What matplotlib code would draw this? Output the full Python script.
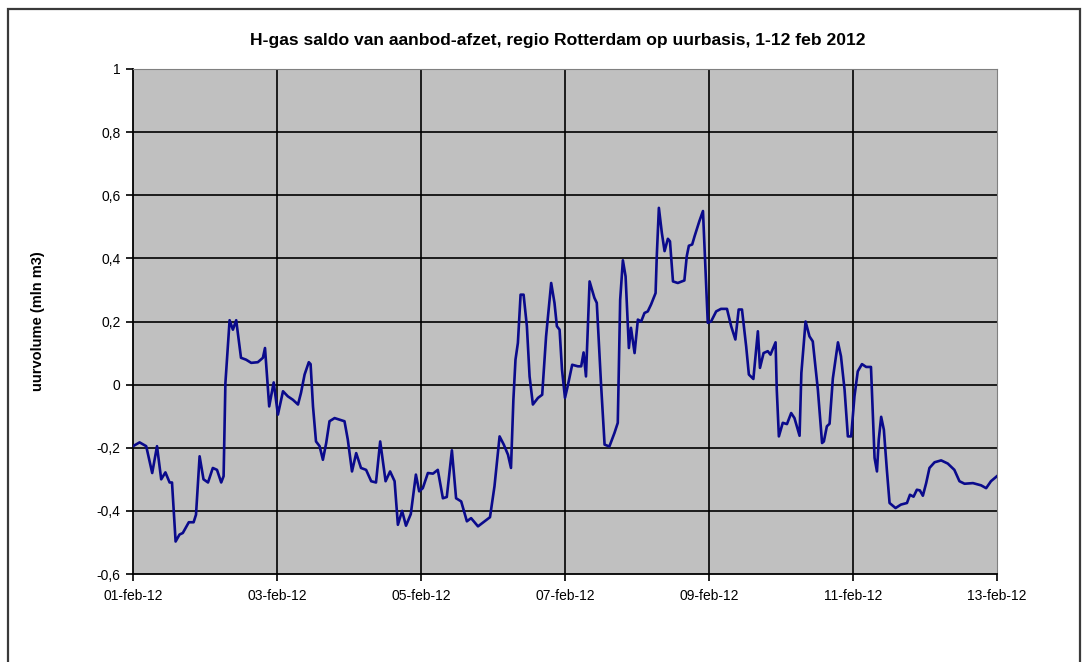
import matplotlib
matplotlib.use("Agg")
import matplotlib.pyplot as plt
from matplotlib.patches import Rectangle

plt.rcParams['font.family'] = ['Liberation Sans', 'DejaVu Sans']

# hourly balance (hours since 01-feb-12 00:00)
hours = [0, 2.2, 4.4, 6.4, 8, 9.4, 10.8, 12.2, 13, 14.2, 15.5, 16.6, 18.6, 20.2, 21,
         22.2, 23.5, 25, 26.6, 28, 29.4, 30.2, 30.8, 32.2, 33.3, 34.4, 36, 37.7, 39.4,
         41.6, 43.3, 44, 45.4, 46.9, 48.3, 50, 51.6, 53.3, 55, 56, 57.2, 58.6, 59.2, 60,
         61, 62.2, 63.3, 64.4, 65.5, 67.2, 70.5, 71.6, 73, 74.4, 76, 77.7, 79.4, 81,
         82.4, 84.2, 85.7, 87.2, 88.3, 89.7, 91, 92.6, 94.3, 95.4, 96.6, 98.3, 100,
         101.6, 103.3, 104.6, 106.3, 107.7, 109.4, 111.3, 112.7, 115, 117.2, 119, 120.5,
         122.2, 123.6, 125, 126, 126.8, 127.5, 128.3, 129.2, 130.2, 131.3, 132.2, 133.3,
         135, 136.4, 137.7, 139.4, 140.5, 141.3, 142.2, 143, 144, 144.9, 146.4, 148.3,
         149.4, 150.2, 151, 152.2, 153.8, 154.6, 156, 157.2, 158.8, 160.5, 161.6, 162.4,
         163.3, 164.2, 165.3, 166, 167.2, 168.3, 169.4, 170.5, 171.6, 172.7, 174.2,
         174.6, 175.3, 176.3, 177.2, 178.3, 179, 180, 181.6, 183.8, 184.6, 185.3, 186.4,
         187.2, 188.8, 190, 191.6, 192.7, 194.4, 196, 198, 199.4, 200.8, 201.9, 203,
         204.4, 205.3, 206.8, 207.5, 208.3, 209, 210.2, 211.6, 212.5, 214.2, 214.6,
         215.3, 216.6, 218, 219.4, 220.5, 222.2, 222.8, 224.2, 225.5, 226.6, 228.3,
         229.7, 230.3, 231.3, 232.2, 233.3, 235, 236, 237.2, 238.3, 239.4, 240.5, 241.6,
         243, 244.4, 246, 246.6, 247.2, 248, 248.6, 249.4, 250.3, 251.3, 252.2, 254.2,
         256, 258, 259, 260.2, 261.3, 262.3, 263.3, 264.4, 265.5, 267.2, 269.4, 271.6,
         273.8, 275.5, 277.2, 280, 282.7, 284.4, 286, 288]
saldo = [-0.195, -0.183, -0.195, -0.28, -0.195, -0.30, -0.278, -0.31, -0.31, -0.497,
         -0.475, -0.47, -0.436, -0.436, -0.412, -0.227, -0.30, -0.31, -0.264, -0.27,
         -0.31, -0.29, 0.005, 0.204, 0.174, 0.204, 0.085, 0.079, 0.069, 0.071, 0.085,
         0.116, -0.069, 0.007, -0.095, -0.021, -0.037, -0.048, -0.063, -0.026, 0.032,
         0.071, 0.065, -0.069, -0.18, -0.195, -0.238, -0.185, -0.116, -0.106, -0.116,
         -0.174, -0.275, -0.217, -0.264, -0.27, -0.306, -0.31, -0.18, -0.306, -0.275,
         -0.306, -0.444, -0.40, -0.447, -0.41, -0.285, -0.338, -0.328, -0.28, -0.282,
         -0.27, -0.36, -0.356, -0.208, -0.36, -0.37, -0.433, -0.423, -0.449, -0.433,
         -0.42, -0.322, -0.164, -0.19, -0.222, -0.264, -0.048, 0.079, 0.132, 0.285,
         0.285, 0.185, 0.026, -0.063, -0.042, -0.032, 0.153, 0.322, 0.259, 0.185, 0.174,
         0.048, -0.042, -0.005, 0.063, 0.058, 0.058, 0.102, 0.026, 0.327, 0.275, 0.259,
         0.005, -0.19, -0.196, -0.153, -0.121, 0.269, 0.394, 0.343, 0.116, 0.18, 0.1,
         0.206, 0.2, 0.227, 0.232, 0.254, 0.29, 0.407, 0.56, 0.48, 0.423, 0.462, 0.454,
         0.327, 0.322, 0.33, 0.407, 0.44, 0.444, 0.47, 0.518, 0.55, 0.196, 0.2, 0.232,
         0.24, 0.24, 0.185, 0.143, 0.238, 0.238, 0.121, 0.032, 0.018, 0.09, 0.169,
         0.053, 0.1, 0.106, 0.095, 0.134, -0.016, -0.164, -0.121, -0.125, -0.09, -0.106,
         -0.162, 0.037, 0.2, 0.153, 0.137, -0.016, -0.185, -0.18, -0.132, -0.124, 0.02,
         0.134, 0.09, -0.016, -0.164, -0.164, -0.037, 0.042, 0.065, 0.056, 0.056, -0.09,
         -0.232, -0.275, -0.174, -0.102, -0.143, -0.27, -0.375, -0.391, -0.38, -0.375,
         -0.349, -0.355, -0.333, -0.335, -0.352, -0.312, -0.264, -0.246, -0.24, -0.25,
         -0.27, -0.306, -0.314, -0.312, -0.319, -0.328, -0.306, -0.29]

x_ticks = [0, 48, 96, 144, 192, 240, 288]
x_labels = ['01-feb-12', '03-feb-12', '05-feb-12', '07-feb-12', '09-feb-12', '11-feb-12', '13-feb-12']
y_ticks = [-0.6, -0.4, -0.2, 0, 0.2, 0.4, 0.6, 0.8, 1]
y_labels = ['-0,6', '-0,4', '-0,2', '0', '0,2', '0,4', '0,6', '0,8', '1']

fig = plt.figure(figsize=(10.84, 6.62), dpi=100)
ax = fig.add_axes([0.1227, 0.1329, 0.9197 - 0.1227, 0.8958 - 0.1329])

# outer frame of the chart object
fig.patches.append(Rectangle((8 / 1084, -0.05), (1080 - 8) / 1084, 1.05 - 9 / 662,
                             transform=fig.transFigure, fill=False,
                             edgecolor='#3a3a3a', linewidth=1.6))

ax.set_facecolor('#c0c0c0')
ax.plot(hours, saldo, color='#0a0a8c', linewidth=1.9, solid_joinstyle='round', zorder=3)

ax.set_xlim(0, 288)
ax.set_ylim(-0.6, 1)
ax.set_xticks(x_ticks)
ax.set_xticklabels(x_labels, fontsize=10)
ax.set_yticks(y_ticks)
ax.set_yticklabels(y_labels, fontsize=10)
ax.tick_params(axis='both', direction='out', length=5, width=1.2, colors='black', pad=4)
ax.tick_params(axis='x', pad=6)

for t in x_ticks[1:-1]:
    ax.axvline(t, color='black', linewidth=1.2, zorder=1)
for t in y_ticks[1:-1]:
    ax.axhline(t, color='black', linewidth=1.2, zorder=1)

ax.spines['left'].set_linewidth(1.3)
ax.spines['bottom'].set_linewidth(1.3)
ax.spines['top'].set_color('#808080')
ax.spines['right'].set_color('#808080')

ax.set_ylabel('uurvolume (mln m3)', fontsize=10.5, fontweight='bold', labelpad=37)
fig.text(0.5 * (247 + 868) / 1084, 1 - 40 / 662,
         'H-gas saldo van aanbod-afzet, regio Rotterdam op uurbasis, 1-12 feb 2012',
         ha='center', va='center', fontsize=12.6, fontweight='bold')

fig.savefig('out.png', dpi=100)
